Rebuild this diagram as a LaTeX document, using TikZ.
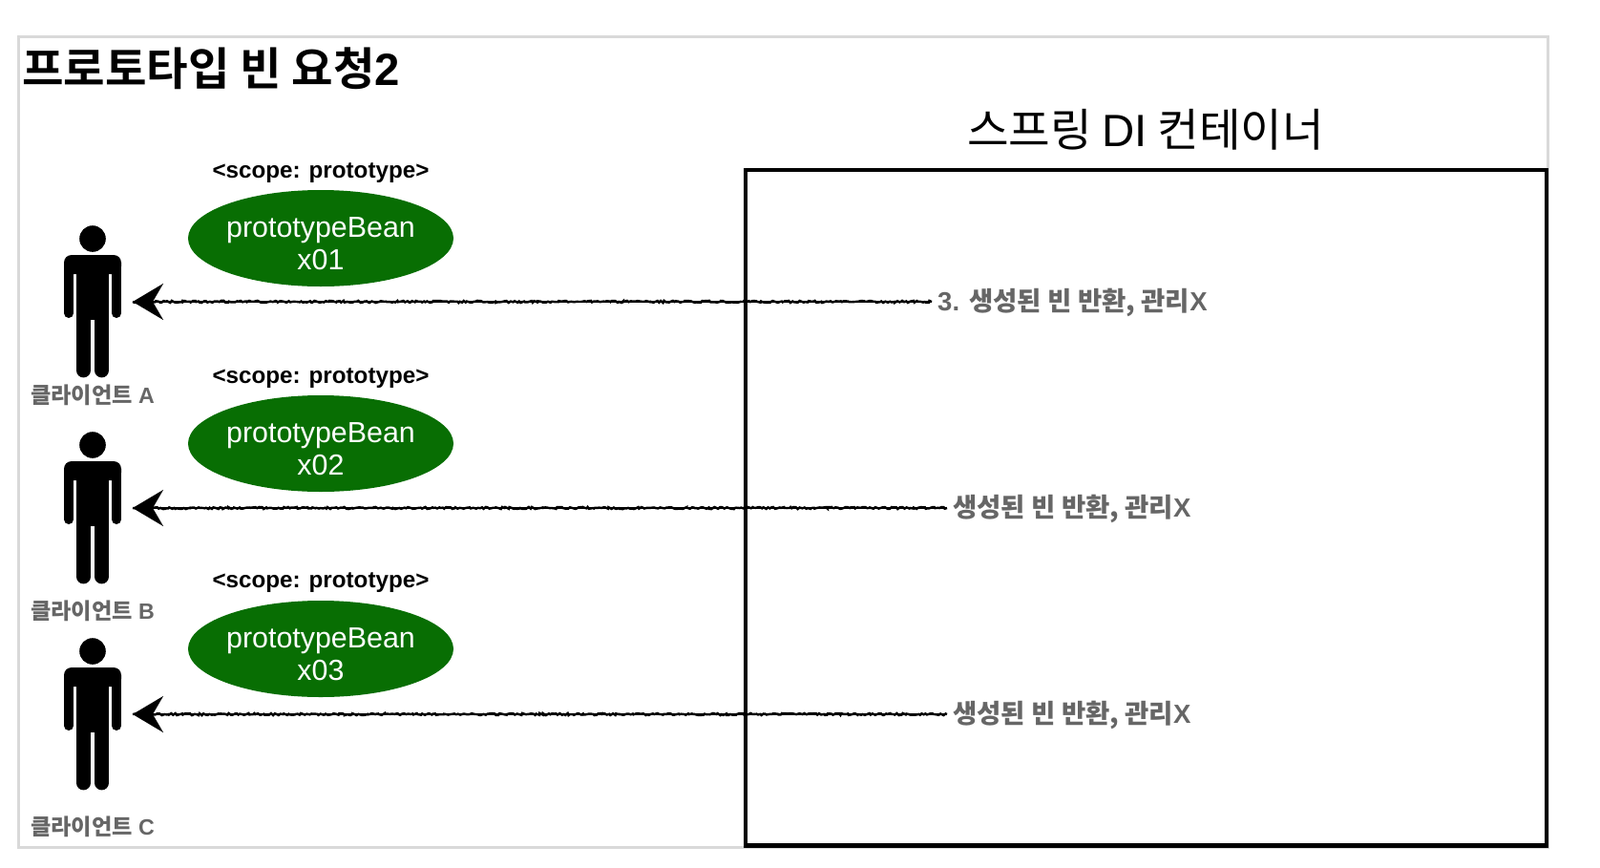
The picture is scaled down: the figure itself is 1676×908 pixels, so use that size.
\documentclass[tikz,border=0pt]{standalone}
\usepackage{fontspec}
\setmainfont{Liberation Sans}
\newfontfamily\krreg{Noto Sans CJK KR}
\newfontfamily\krbold{Noto Sans CJK KR Bold}
\usepackage{xcolor}
\usetikzlibrary{
    arrows.meta,
    shapes.geometric,
    decorations.pathmorphing
}
\definecolor{beangreen}{HTML}{086E03}
\definecolor{framegray}{HTML}{D9D9D9}
\definecolor{notegray}{HTML}{666666}
\tikzset{
    actor/.pic={
        \fill (0,250) circle (13.8pt);
        \fill[rounded corners=8pt] (-30,287) -- (-30,267) -- (30,267) -- (30,287) -- cycle;
        \fill (-17,275) rectangle (17,335);
        \draw[line width=10pt, line cap=round] (-25,280) -- (-25,328);
        \draw[line width=10pt, line cap=round] (25,280) -- (25,328);
        \draw[line width=14.8pt, line cap=round] (-9.6,325) -- (-9.6,388);
        \draw[line width=14.8pt, line cap=round] (9.6,325) -- (9.6,388);
    }
}
\begin{document}
\begin{tikzpicture}[
            x=1pt, y=-1pt,
            bean/.style={ellipse, fill=beangreen, text=white, minimum width=278pt, minimum height=101pt, inner ysep=0pt, inner xsep=-2pt, align=center, font=\fontsize{30.4}{34}\selectfont},
            scopelabel/.style={inner sep=0pt, font=\fontsize{24.2}{28}\selectfont\bfseries},
            clientlabel/.style={inner sep=0pt, text=notegray, font=\fontsize{23.2}{28}\selectfont\bfseries},
            returnlabel/.style={anchor=west, inner sep=6pt, text height=24pt, text depth=5pt, text=notegray, font=\fontsize{27.5}{32}\selectfont\bfseries},
            returnline/.style={line width=2.6pt, -{Stealth[length=32pt, width=38pt, inset=11pt]},
                postaction={draw, -, line width=2.4pt, decorate, decoration={random steps, segment length=2pt, amplitude=1.1pt}}}
        ]
        \useasboundingbox (0,0) rectangle (1676,908);
        \draw[framegray, line width=3pt] (19,38.5) rectangle (1621,887.5);
        \draw[line width=4.5pt] (781,178) rectangle (1620,885.5);
        \node[anchor=west, inner sep=0pt, font=\fontsize{47.3}{52}\selectfont] (title) at (23,72) {{\krbold 프로토타입 빈 요청}\textbf{2}};
        \node[inner sep=0pt, font=\fontsize{47.4}{52}\selectfont] (container) at (1200,136) {{\krreg 스프링 }DI{\krreg{} 컨테이너}};
        % clients
        \pic at (97,0) {actor};
        \pic at (97,216) {actor};
        \pic at (97,432) {actor};
        \coordinate (clientA) at (139,316);
        \coordinate (clientB) at (139,532);
        \coordinate (clientC) at (139,748);
        \node[clientlabel] (labelA) at (97,414) {{\krbold 클라이언트} A};
        \node[clientlabel] (labelB) at (97,640) {{\krbold 클라이언트} B};
        \node[clientlabel] (labelC) at (97,866) {{\krbold 클라이언트} C};
        % beans
        \node[scopelabel] (scopeA) at (336,181) {<scope: prototype>};
        \node[scopelabel] (scopeB) at (336,396) {<scope: prototype>};
        \node[scopelabel] (scopeC) at (336,610) {<scope: prototype>};
        \node[bean] (beanA) at (336,249.5) {\rule{0pt}{33pt}prototypeBean\\x01};
        \node[bean] (beanB) at (336,464.5) {\rule{0pt}{33pt}prototypeBean\\x02};
        \node[bean] (beanC) at (336,679.5) {\rule{0pt}{33pt}prototypeBean\\x03};
        % returned beans
        \node[returnlabel] (returnA) at (976,316) {3. {\krbold 생성된 빈 반환, 관리}X};
        \node[returnlabel] (returnB) at (992,532) {{\krbold 생성된 빈 반환, 관리}X};
        \node[returnlabel] (returnC) at (992,748) {{\krbold 생성된 빈 반환, 관리}X};
        \draw[returnline] (returnA.west) -- (clientA);
        \draw[returnline] (returnB.west) -- (clientB);
        \draw[returnline] (returnC.west) -- (clientC);
    \end{tikzpicture}
\end{document}
